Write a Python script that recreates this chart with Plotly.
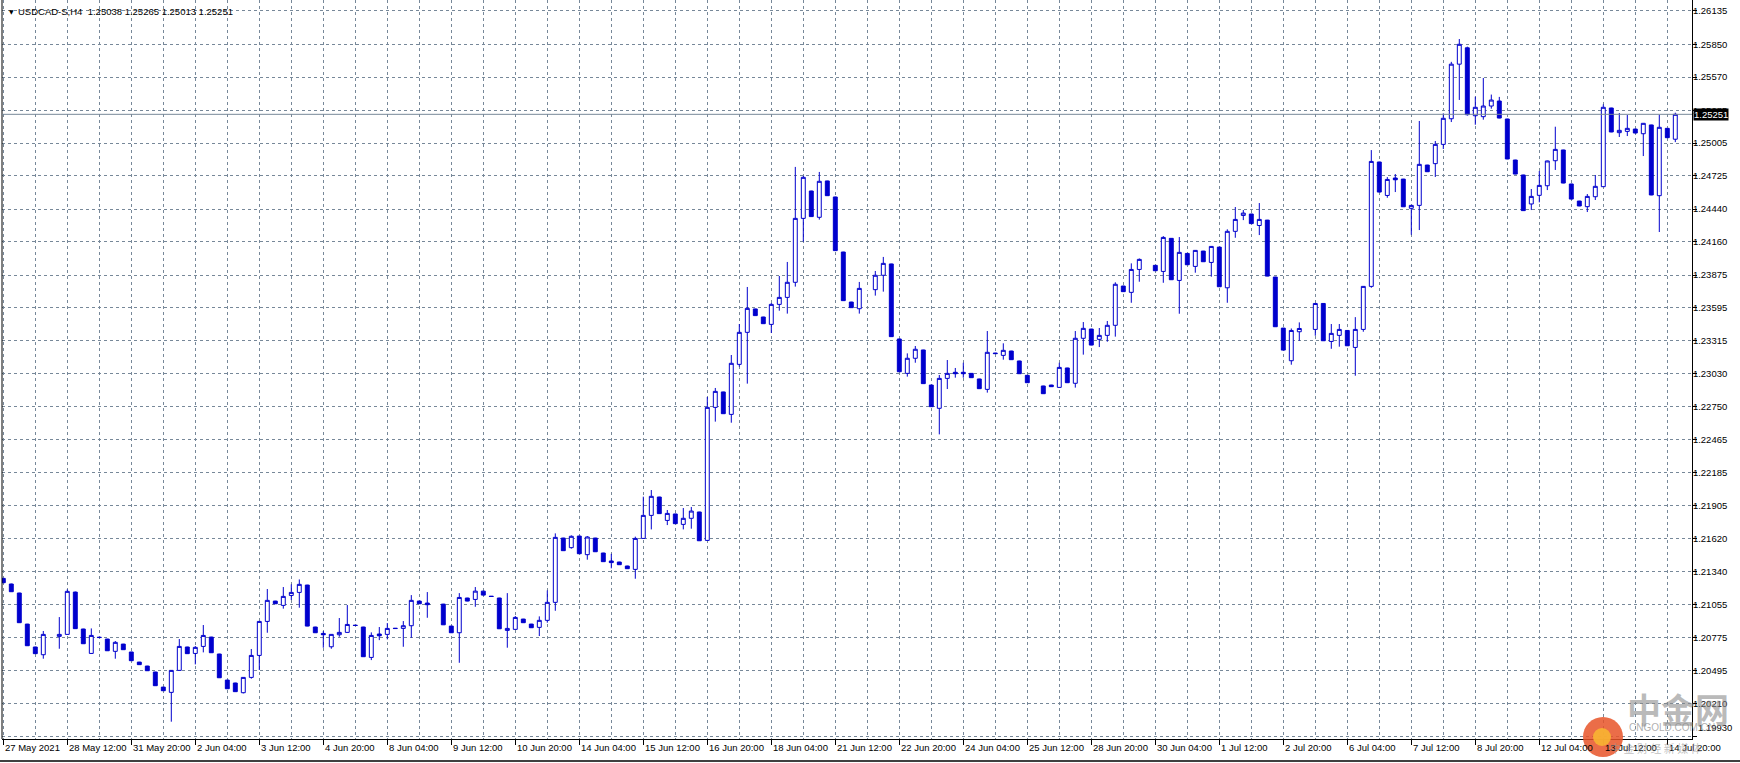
import plotly.graph_objects as go

# ---------------- data (USDCAD-S, H4) ----------------
open_ = [
 1.21281,1.21233,1.21156,1.20890,1.20694,1.20628,1.20795,1.20785,1.20802,1.21164,
 1.20848,1.20639,1.20778,1.20762,1.20657,1.20719,1.20651,1.20565,1.20531,1.20480,
 1.20351,1.20306,1.20494,1.20694,1.20639,1.20699,1.20779,1.20634,1.20411,1.20386,
 1.20303,1.20434,1.20622,1.20913,1.21087,1.21050,1.21135,1.21161,1.21224,1.20865,
 1.20810,1.20696,1.20799,1.20819,1.20881,1.20865,1.20605,1.20805,1.20802,1.20855,
 1.20853,1.20876,1.21087,1.21070,1.21058,1.21061,1.20873,1.20816,1.21113,1.21101,
 1.21172,1.21129,1.21113,1.20836,1.20845,1.20933,1.20890,1.20862,1.20922,1.21076,
 1.21626,1.21544,1.21643,1.21484,1.21626,1.21498,1.21430,1.21421,1.21387,1.21358,
 1.21623,1.21820,1.21977,1.21777,1.21832,1.21743,1.21795,1.21849,1.21606,1.22744,
 1.22876,1.22684,1.23112,1.23386,1.23586,1.23517,1.23454,1.23625,1.23685,1.23814,
 1.24361,1.24595,1.24370,1.24681,1.24544,1.24073,1.23645,1.23588,1.23755,1.23751,
 1.23874,1.23971,1.23329,1.23035,1.23164,1.23235,1.22935,1.22736,1.22992,1.23044,
 1.23044,1.23035,1.22987,1.22898,1.23209,1.23189,1.23226,1.23141,1.23018,1.22940,
 1.22927,1.22935,1.22915,1.23081,1.22950,1.23335,1.23414,1.23326,1.23360,1.23446,
 1.23782,1.23728,1.23924,1.23990,1.23959,1.23907,1.24190,1.23830,1.24061,1.23950,
 1.24081,1.23984,1.24115,1.23767,1.24250,1.24386,1.24398,1.24300,1.24346,1.23859,
 1.23422,1.23143,1.23391,1.23415,1.23411,1.23633,1.23308,1.23360,1.23402,1.23257,
 1.23411,1.23779,1.24843,1.24557,1.24706,1.24697,1.24447,1.24472,1.24817,1.24829,
 1.24994,1.25213,1.25680,1.25820,1.25239,1.25231,1.25322,1.25365,1.25211,1.24860,
 1.24732,1.24484,1.24558,1.24640,1.24854,1.24946,1.24655,1.24509,1.24461,1.24546,
 1.24632,1.25305,1.25094,1.25105,1.25125,1.25085,1.25160,1.24555,1.25131,1.25038]
high = [
 1.21285,1.21236,1.21158,1.20892,1.20696,1.20831,1.20800,1.20950,1.21187,1.21168,
 1.20850,1.20853,1.20779,1.20764,1.20745,1.20721,1.20653,1.20567,1.20533,1.20482,
 1.20353,1.20497,1.20762,1.20696,1.20702,1.20882,1.20781,1.20636,1.20413,1.20388,
 1.20437,1.20677,1.20916,1.21190,1.21089,1.21207,1.21230,1.21272,1.21226,1.20867,
 1.20830,1.20805,1.20942,1.21053,1.20882,1.20867,1.20819,1.20865,1.20899,1.20856,
 1.20916,1.21138,1.21089,1.21164,1.21060,1.21063,1.20875,1.21155,1.21115,1.21207,
 1.21175,1.21130,1.21115,1.21155,1.20959,1.20935,1.20892,1.20956,1.21178,1.21666,
 1.21628,1.21649,1.21645,1.21643,1.21628,1.21500,1.21491,1.21423,1.21389,1.21638,
 1.21980,1.22037,1.21979,1.21866,1.21834,1.21883,1.21892,1.21851,1.22833,1.22910,
 1.22878,1.23192,1.23457,1.23774,1.23588,1.23519,1.23637,1.23868,1.23988,1.24801,
 1.24724,1.24597,1.24758,1.24683,1.24546,1.24075,1.23647,1.23817,1.23770,1.23911,
 1.24031,1.23973,1.23331,1.23206,1.23269,1.23237,1.22937,1.23021,1.23149,1.23081,
 1.23126,1.23037,1.22989,1.23397,1.23210,1.23292,1.23228,1.23143,1.23020,1.22945,
 1.22929,1.22937,1.23126,1.23083,1.23397,1.23474,1.23416,1.23423,1.23483,1.23814,
 1.23784,1.23976,1.24018,1.23995,1.23961,1.24209,1.24192,1.24201,1.24063,1.24090,
 1.24083,1.24124,1.24117,1.24267,1.24458,1.24432,1.24400,1.24492,1.24348,1.23861,
 1.23424,1.23419,1.23471,1.23420,1.23636,1.23635,1.23457,1.23457,1.23404,1.23516,
 1.23782,1.24945,1.24845,1.24714,1.24740,1.24699,1.24475,1.25194,1.24819,1.25023,
 1.25259,1.25700,1.25895,1.25830,1.25402,1.25562,1.25420,1.25400,1.25213,1.24862,
 1.24734,1.24612,1.24766,1.24855,1.25145,1.24948,1.24657,1.24511,1.24569,1.24732,
 1.25336,1.25307,1.25262,1.25245,1.25127,1.25177,1.25162,1.25248,1.25133,1.25265]
low = [
 1.21240,1.21165,1.20900,1.20703,1.20635,1.20594,1.20790,1.20679,1.20800,1.20848,
 1.20720,1.20636,1.20774,1.20660,1.20594,1.20669,1.20575,1.20541,1.20489,1.20361,
 1.20318,1.20055,1.20492,1.20635,1.20545,1.20648,1.20643,1.20429,1.20335,1.20310,
 1.20297,1.20423,1.20497,1.20816,1.21062,1.21022,1.21096,1.21030,1.20871,1.20814,
 1.20688,1.20679,1.20782,1.20816,1.20876,1.20609,1.20582,1.20753,1.20759,1.20850,
 1.20696,1.20773,1.21062,1.20944,1.21056,1.20882,1.20814,1.20559,1.21085,1.21038,
 1.21136,1.21124,1.20848,1.20688,1.20842,1.20900,1.20857,1.20788,1.20902,1.21004,
 1.21516,1.21535,1.21490,1.21441,1.21507,1.21422,1.21367,1.21396,1.21362,1.21278,
 1.21620,1.21700,1.21833,1.21737,1.21747,1.21700,1.21706,1.21601,1.21603,1.22622,
 1.22688,1.22613,1.23092,1.22947,1.23527,1.23458,1.23380,1.23571,1.23546,1.23777,
 1.24162,1.24374,1.24350,1.24553,1.24083,1.23655,1.23595,1.23546,1.23745,1.23700,
 1.23734,1.23347,1.23047,1.23007,1.23126,1.22945,1.22748,1.22513,1.22901,1.22998,
 1.22998,1.22996,1.22902,1.22870,1.23203,1.23152,1.23150,1.23030,1.22953,1.22935,
 1.22859,1.22919,1.22912,1.22953,1.22913,1.23195,1.23275,1.23260,1.23306,1.23349,
 1.23732,1.23639,1.23819,1.23985,1.23911,1.23810,1.23834,1.23545,1.23962,1.23896,
 1.23988,1.23862,1.23774,1.23639,1.24195,1.24346,1.24314,1.24218,1.23865,1.23432,
 1.23232,1.23109,1.23314,1.23410,1.23357,1.23312,1.23245,1.23263,1.23269,1.23015,
 1.23391,1.23767,1.24584,1.24537,1.24586,1.24458,1.24221,1.24261,1.24758,1.24715,
 1.24954,1.25185,1.25374,1.25240,1.25162,1.25205,1.25299,1.25217,1.24867,1.24738,
 1.24425,1.24432,1.24498,1.24603,1.24775,1.24661,1.24524,1.24465,1.24415,1.24518,
 1.24629,1.25098,1.25057,1.25065,1.25089,1.24894,1.24559,1.24244,1.25049,1.25013]
close = [
 1.21244,1.21167,1.20902,1.20705,1.20637,1.20802,1.20795,1.20802,1.21170,1.20851,
 1.20722,1.20793,1.20775,1.20662,1.20734,1.20671,1.20577,1.20543,1.20491,1.20363,
 1.20320,1.20494,1.20699,1.20637,1.20691,1.20793,1.20645,1.20431,1.20337,1.20312,
 1.20434,1.20622,1.20913,1.21093,1.21064,1.21127,1.21161,1.21230,1.20873,1.20816,
 1.20799,1.20802,1.20819,1.20887,1.20878,1.20611,1.20793,1.20790,1.20853,1.20852,
 1.20876,1.21093,1.21064,1.21056,1.21058,1.20884,1.20816,1.21118,1.21087,1.21172,
 1.21138,1.21126,1.20850,1.20853,1.20947,1.20902,1.20859,1.20922,1.21076,1.21632,
 1.21518,1.21641,1.21492,1.21635,1.21509,1.21424,1.21416,1.21398,1.21364,1.21623,
 1.21820,1.21983,1.21835,1.21837,1.21749,1.21795,1.21857,1.21603,1.22744,1.22881,
 1.22690,1.23121,1.23386,1.23591,1.23529,1.23460,1.23625,1.23685,1.23814,1.24361,
 1.24712,1.24376,1.24678,1.24555,1.24085,1.23657,1.23597,1.23762,1.23755,1.23874,
 1.23976,1.23349,1.23049,1.23164,1.23241,1.22947,1.22750,1.22992,1.23035,1.23032,
 1.23032,1.22998,1.22904,1.23215,1.23204,1.23232,1.23152,1.23032,1.22955,1.22940,
 1.22861,1.22921,1.23086,1.22955,1.23335,1.23420,1.23277,1.23360,1.23446,1.23797,
 1.23734,1.23924,1.24010,1.23990,1.23913,1.24198,1.23836,1.24070,1.23964,1.24087,
 1.23990,1.24121,1.23776,1.24250,1.24352,1.24406,1.24316,1.24352,1.23867,1.23434,
 1.23234,1.23402,1.23419,1.23415,1.23633,1.23314,1.23377,1.23411,1.23271,1.23411,
 1.23779,1.24848,1.24586,1.24694,1.24691,1.24460,1.24472,1.24823,1.24760,1.24994,
 1.25217,1.25680,1.25850,1.25248,1.25311,1.25322,1.25373,1.25219,1.24869,1.24740,
 1.24427,1.24549,1.24643,1.24852,1.24951,1.24663,1.24526,1.24467,1.24549,1.24635,
 1.25311,1.25100,1.25114,1.25131,1.25091,1.25174,1.24561,1.25140,1.25051,1.25251]

x_labels = ["27 May 2021", "28 May 12:00", "31 May 20:00", "2 Jun 04:00", "3 Jun 12:00",
            "4 Jun 20:00", "8 Jun 04:00", "9 Jun 12:00", "10 Jun 20:00", "14 Jun 04:00",
            "15 Jun 12:00", "16 Jun 20:00", "18 Jun 04:00", "21 Jun 12:00", "22 Jun 20:00",
            "24 Jun 04:00", "25 Jun 12:00", "28 Jun 20:00", "30 Jun 04:00", "1 Jul 12:00",
            "2 Jul 20:00", "6 Jul 04:00", "7 Jul 12:00", "8 Jul 20:00", "12 Jul 04:00",
            "13 Jul 12:00", "14 Jul 20:00"]
bars_per_label = 8
y_labels = ["1.19930", "1.20210", "1.20495", "1.20775", "1.21055", "1.21340", "1.21620",
            "1.21905", "1.22185", "1.22465", "1.22750", "1.23030", "1.23315", "1.23595",
            "1.23875", "1.24160", "1.24440", "1.24725", "1.25005", "1.25285", "1.25570",
            "1.25850", "1.26135"]
symbol = "USDCAD-S,H4"

# ---------------- figure ----------------
BLUE = "#0000CD"
GRID = "#778899"
FONT = "Liberation Sans"
W, H = 1740, 763
ML, MR, MT, MB = 2, 48, 0, 24
PW, PH = W - ML - MR, H - MT - MB

n = len(close)
idx_bull = [i for i in range(n) if close[i] > open_[i]]
idx_bear = [i for i in range(n) if close[i] < open_[i]]
idx_doji = [i for i in range(n) if close[i] == open_[i]]


def candles(idx, line_color, fill_color):
    style = dict(line=dict(color=line_color, width=1), fillcolor=fill_color)
    return go.Candlestick(
        x=idx,
        open=[open_[i] for i in idx], high=[high[i] for i in idx],
        low=[low[i] for i in idx], close=[close[i] for i in idx],
        increasing=style, decreasing=style, whiskerwidth=0,
        showlegend=False, hoverinfo="skip")


fig = go.Figure()
fig.add_trace(candles(idx_doji, "#FFFFFF", "#FFFFFF"))
fig.add_trace(candles(idx_bull, BLUE, "#FFFFFF"))
fig.add_trace(candles(idx_bear, BLUE, BLUE))

x_step = 8.0  # pixels per bar
x0 = -1.3 / x_step
x1 = x0 + PW / x_step
y_lo, y_hi = 1.19907, 1.26229

major = list(range(0, n, bars_per_label))
minor = [v + bars_per_label // 2 for v in major if v + bars_per_label // 2 < n]

yt_vals = [float(s) for s in y_labels]
yt_text = list(y_labels)
yt_text[0] = ""  # bottom label drawn lifted, as in terminal

fig.update_layout(
    template="none",
    width=W, height=H,
    margin=dict(l=ML, r=MR, t=MT, b=MB, pad=0),
    paper_bgcolor="white", plot_bgcolor="white",
    font=dict(family=FONT, size=9.5, color="black"),
    showlegend=False,
    xaxis=dict(
        range=[x0, x1], rangeslider=dict(visible=False),
        tickmode="array", tickvals=major, showticklabels=False,
        ticks="outside", ticklen=5, tickcolor="black", tickwidth=1,
        showgrid=True, gridcolor=GRID, gridwidth=1, griddash="3px,3px",
        minor=dict(tickmode="array", tickvals=minor, ticks="", showgrid=True,
                   gridcolor=GRID, gridwidth=1, griddash="3px,3px"),
        showline=True, linecolor="black", linewidth=1,
        zeroline=False, automargin=False, fixedrange=True),
    yaxis=dict(
        range=[y_lo, y_hi], side="right",
        tickmode="array", tickvals=yt_vals, ticktext=yt_text,
        ticks="outside", ticklen=4, tickcolor="black", tickwidth=1,
        ticklabelstandoff=-6,
        tickfont=dict(family=FONT, size=9.5, color="black"),
        showgrid=True, gridcolor=GRID, gridwidth=1, griddash="3px,3px",
        showline=True, linecolor="black", linewidth=1,
        zeroline=False, automargin=False, fixedrange=True),
)


def px_x(px):
    return (px - ML) / PW


def px_y(px):
    return 1 - (px - MT) / PH


shapes = []
# left border
shapes.append(dict(type="line", xref="paper", yref="paper", x0=0, x1=0, y0=0, y1=1,
                   line=dict(color="black", width=1)))
# current price line
shapes.append(dict(type="line", xref="paper", yref="y", x0=0, x1=1,
                   y0=close[-1], y1=close[-1], line=dict(color=GRID, width=1)))
# bottom window edge
shapes.append(dict(type="line", xref="paper", yref="paper", x0=px_x(0), x1=px_x(W),
                   y0=px_y(761), y1=px_y(761), line=dict(color="black", width=1.5)))
# watermark logo (centre ~ (1603, 737), radius ~20 px)
shapes.append(dict(type="circle", xref="paper", yref="paper",
                   x0=px_x(1583), x1=px_x(1623), y0=px_y(757), y1=px_y(717),
                   fillcolor="rgba(232,84,40,0.85)", line=dict(width=0), layer="above"))
shapes.append(dict(type="circle", xref="paper", yref="paper",
                   x0=px_x(1593), x1=px_x(1611), y0=px_y(746), y1=px_y(728),
                   fillcolor="rgba(248,180,50,0.9)", line=dict(width=0), layer="above"))
fig.update_layout(shapes=shapes)

ann = []
# x labels, left aligned at their tick
for k, lab in enumerate(x_labels):
    ann.append(dict(x=major[k], xref="x", y=0, yref="paper", text=lab, showarrow=False,
                    xanchor="left", yanchor="top", xshift=0, yshift=-1,
                    font=dict(family=FONT, size=9.5, color="black")))
# bottom price label (lifted)
ann.append(dict(x=1, xref="paper", y=px_y(727), yref="paper", text=y_labels[0],
                showarrow=False, xanchor="left", yanchor="middle", xshift=4,
                font=dict(family=FONT, size=9.5, color="black")))
# current price box
ann.append(dict(x=1, xref="paper", y=close[-1], yref="y", text=f"{close[-1]:.5f}",
                showarrow=False, xanchor="left", yanchor="middle", xshift=1,
                bgcolor="black", borderpad=0,
                font=dict(family=FONT, size=9.5, color="white")))
# header
ann.append(dict(x=px_x(7), xref="paper", y=px_y(11), yref="paper", text="▼",
                showarrow=False, xanchor="left", yanchor="middle",
                font=dict(family="DejaVu Sans", size=6, color="black")))
ann.append(dict(x=px_x(16), xref="paper", y=px_y(11), yref="paper",
                text=f"{symbol}  {open_[-1]:.5f} {high[-1]:.5f} {low[-1]:.5f} {close[-1]:.5f}",
                showarrow=False, xanchor="left", yanchor="middle",
                font=dict(family=FONT, size=9.5, color="black")))
# watermark texts
ann.append(dict(x=px_x(1678), xref="paper", y=px_y(708), yref="paper",
                text="<b>中金网</b>", showarrow=False, xanchor="center", yanchor="middle",
                font=dict(family="Noto Sans CJK SC", size=34, color="rgba(140,140,140,0.6)")))
ann.append(dict(x=px_x(1672), xref="paper", y=px_y(727), yref="paper",
                text="CNGOLD.COM.CN", showarrow=False, xanchor="center", yanchor="middle",
                font=dict(family=FONT, size=10, color="rgba(140,140,140,0.7)")))
ann.append(dict(x=px_x(1656), xref="paper", y=px_y(748), yref="paper",
                text="中 金 财 经 新 媒 体", showarrow=False, xanchor="center", yanchor="middle",
                font=dict(family="Noto Sans CJK SC", size=11, color="rgba(150,150,150,0.6)")))
fig.update_layout(annotations=ann)

page_fix = ("document.documentElement.style.margin='0';document.body.style.margin='0';"
            "document.body.style.padding='0';document.body.style.overflow='hidden';"
            "document.documentElement.style.overflow='hidden';")
fig.write_html("out.html", post_script=page_fix,
               config={"displayModeBar": False, "staticPlot": True})
